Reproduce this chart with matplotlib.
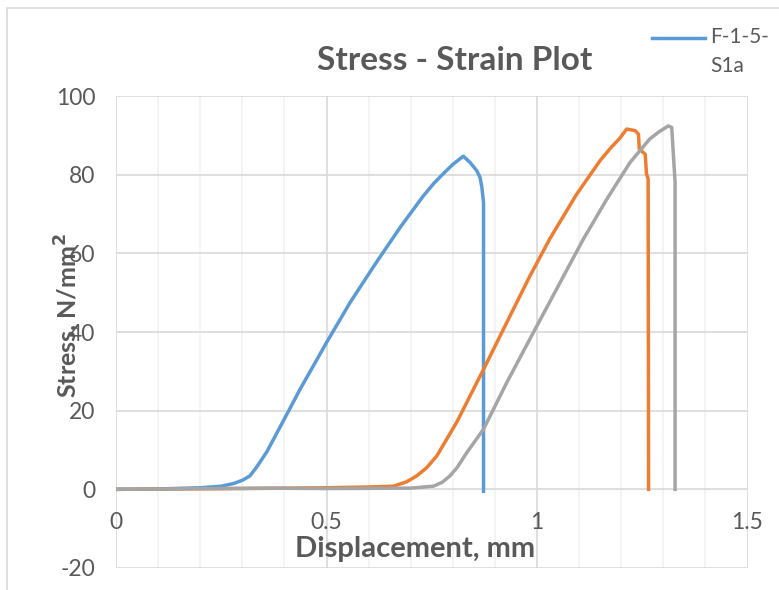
import numpy as np
import matplotlib.pyplot as plt
from matplotlib.lines import Line2D
from matplotlib.patches import Rectangle
from matplotlib.ticker import MultipleLocator

plt.rcParams['font.family'] = ['Lato', 'DejaVu Sans']
plt.rcParams['axes.unicode_minus'] = False

# series (displacement mm, stress N/mm^2)
blue_x = [0, 0.10, 0.20, 0.25, 0.28, 0.30, 0.318, 0.335, 0.358, 0.397, 0.437, 0.500, 0.556,
          0.619, 0.675, 0.730, 0.755, 0.777, 0.800, 0.825, 0.841, 0.857, 0.865,
          0.869, 0.873, 0.873]
blue_y = [0, 0.1, 0.4, 0.8, 1.5, 2.3, 3.4, 5.8, 9.5, 17.3, 25.4, 37.3, 47.5,
          57.8, 66.6, 74.6, 77.8, 80.2, 82.6, 84.7, 83.1, 81.0, 79.2,
          76.8, 72.9, -0.5]

orange_x = [0, 0.30, 0.50, 0.60, 0.659, 0.690, 0.714, 0.738, 0.762, 0.809, 0.873, 0.936,
            0.983, 1.031, 1.094, 1.150, 1.175, 1.197, 1.213, 1.233, 1.241, 1.243,
            1.257, 1.260, 1.264, 1.265]
orange_y = [0, 0.2, 0.4, 0.6, 0.8, 1.9, 3.4, 5.5, 8.5, 17.0, 30.5, 44.1,
            54.2, 63.8, 75.0, 83.6, 86.8, 89.3, 91.6, 91.2, 90.3, 86.5,
            85.2, 80.2, 78.9, 0]

gray_x = [0, 0.35, 0.50, 0.70, 0.754, 0.775, 0.793, 0.810, 0.833, 0.873, 0.928, 0.983,
          1.059, 1.110, 1.166, 1.221, 1.268, 1.290, 1.312, 1.320, 1.328, 1.328]
gray_y = [0, 0.3, 0.2, 0.3, 0.8, 1.8, 3.4, 5.5, 9.3, 15.3, 27.1, 38.2,
          53.4, 63.6, 73.8, 83.1, 89.1, 90.9, 92.4, 92.0, 78.0, 0]

legend_label = "F-1-5-\nS1a"
txt = '#595959'

fig = plt.figure(figsize=(7.79, 5.9), dpi=100)
ax = fig.add_axes([116/779, 1-568/590, 631.5/779, 472/590])

ax.plot(blue_x, blue_y, color='#5B9BD5', lw=2.5)
ax.plot(orange_x, orange_y, color='#ED7D31', lw=2.5)
ax.plot(gray_x, gray_y, color='#A5A5A5', lw=2.5)

ax.set_xlim(0, 1.5)
ax.set_ylim(-20, 100)
ax.xaxis.set_major_locator(MultipleLocator(0.5))
ax.xaxis.set_minor_locator(MultipleLocator(0.1))
ax.yaxis.set_major_locator(MultipleLocator(20))
ax.xaxis.set_major_formatter(plt.FuncFormatter(lambda v, p: f"{v:g}"))
ax.grid(which='major', color='#D9D9D9', lw=1.2, zorder=0)
ax.grid(which='minor', axis='x', color='#F2F2F2', lw=1.2, zorder=0)
ax.set_axisbelow(True)

for s in ['top', 'right', 'left', 'bottom']:
    ax.spines[s].set_visible(False)
# x tick labels sit under the zero line, as Excel draws them
ax.spines['bottom'].set_position(('data', 0))

ax.tick_params(which='both', length=0)
ax.tick_params(axis='y', pad=15, labelsize=16.5, labelcolor=txt)
ax.tick_params(axis='x', pad=16, labelsize=16.5, labelcolor=txt)

ax.set_xlabel("Displacement, mm", fontsize=21, fontweight='bold', color=txt)
ax.xaxis.set_label_coords((415-116)/631.5, (568-536)/472)
ax.set_ylabel("Stress, N/mm$^\\mathbf{2}$", fontsize=18, fontweight='bold', color=txt)
ax.yaxis.set_label_coords((83-116)/631.5, (568-315)/472)

fig.text(455/779, 1-60/590, "Stress - Strain Plot", ha='center', va='center',
         fontsize=24, fontweight='bold', color=txt)

# legend: only the first series is shown, with its label wrapped
fig.add_artist(Line2D([652/779, 705/779], [1-37.5/590, 1-37.5/590],
                      color='#5B9BD5', lw=2.5))
fig.text(710/779, 1-27/590, legend_label, ha='left', va='top', fontsize=15,
         color=txt, linespacing=1.55)

fig.add_artist(Rectangle((6.5/779, -0.05), 1.0, 1-8/590+0.05, fill=False,
                         edgecolor='#D9D9D9', lw=1.2, transform=fig.transFigure))

fig.savefig("out.png", dpi=100)
